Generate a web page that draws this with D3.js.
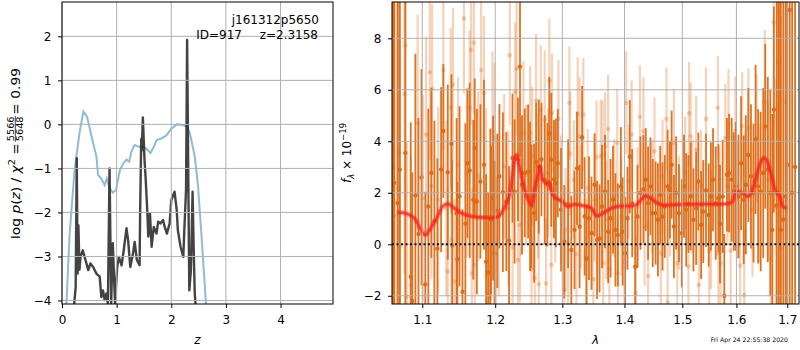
<!DOCTYPE html>
<html>
<head>
<meta charset="utf-8">
<script src="https://cdn.jsdelivr.net/npm/d3@7"></script>
<style>
  body { margin: 0; background: #fff; }
  text { font-family: "DejaVu Sans", sans-serif; }
</style>
</head>
<body>
<svg id="chart" width="800" height="350"></svg>
<script>
// ---- left panel: redshift fit ----
const zTicks = [0, 1, 2, 3, 4];
const zTickLabels = ['0', '1', '2', '3', '4'];
const logpTicks = [-4, -3, -2, -1, 0, 1, 2];
const logpTickLabels = ['\u22124', '\u22123', '\u22122', '\u22121', '0', '1', '2'];

// scaled chi2 curve (blue)
const chiZ = [0.06, 0.08, 0.14, 0.23, 0.32, 0.39, 0.46, 0.57, 0.63, 0.66, 0.72, 0.78, 0.82, 0.87, 0.93, 0.99,
  1.06, 1.12, 1.18, 1.23, 1.27, 1.33, 1.41, 1.48, 1.54, 1.62, 1.68, 1.73, 1.82, 1.91, 2.00, 2.10,
  2.19, 2.28, 2.34, 2.43, 2.49, 2.55, 2.61, 2.66];
const chiVal = [-5.0, -4.1, -2.48, -1.04, -0.2, 0.29, 0.17, -0.43, -0.73, -1.15, -1.23, -1.38, -1.23, -1.45, -1.55, -1.49,
  -1.04, -0.89, -0.8, -0.85, -0.62, -0.47, -0.51, -0.51, -0.55, -0.65, -0.51, -0.36, -0.32, -0.25, -0.1, 0.0,
  -0.01, -0.05, -0.2, -0.73, -1.41, -2.47, -3.6, -4.6];

// log p(z) (black)
const pzZ = [0.20, 0.25, 0.27, 0.285, 0.30, 0.32, 0.34, 0.38, 0.43, 0.48, 0.52, 0.57, 0.63, 0.69, 0.72, 0.75,
  0.78, 0.81, 0.84, 0.87, 0.90, 0.93, 0.97, 1.01, 1.04, 1.09, 1.13, 1.18, 1.21, 1.25, 1.30, 1.33,
  1.37, 1.42, 1.43, 1.45, 1.46, 1.48, 1.51, 1.53, 1.56, 1.58, 1.61, 1.64, 1.68, 1.73, 1.76, 1.80,
  1.85, 1.88, 1.92, 1.97, 2.00, 2.06, 2.10, 2.12, 2.17, 2.22, 2.24, 2.27, 2.29, 2.31, 2.33, 2.36,
  2.39, 2.41, 2.43, 2.46];
const pzVal = [-4.4, -3.7, -0.77, -3.39, -2.29, -3.3, -3.0, -2.86, -3.08, -3.31, -3.16, -3.24, -3.39, -3.46, -3.92, -3.77,
  -3.99, -3.84, -4.07, -1.0, -4.07, -2.7, -4.07, -3.24, -3.01, -3.2, -2.86, -2.36, -2.63, -3.24, -2.93, -2.67,
  -3.08, -3.2, -2.0, -0.33, -0.6, 0.16, -0.8, -1.2, -1.95, -2.55, -2.02, -2.78, -2.33, -2.48, -2.21, -2.25,
  -2.17, -2.33, -2.48, -2.25, -1.72, -1.53, -1.95, -2.4, -2.78, -3.01, -2.36, -1.5, 1.92, -1.0, -3.77, -3.3,
  -1.53, -2.8, -3.84, -4.4];

// ---- right panel: spectrum ----
const waveTicks = [1.1, 1.2, 1.3, 1.4, 1.5, 1.6, 1.7];
const waveTickLabels = ['1.1', '1.2', '1.3', '1.4', '1.5', '1.6', '1.7'];
const fluxTicks = [-2, 0, 2, 4, 6, 8];
const fluxTickLabels = ['\u22122', '0', '2', '4', '6', '8'];

// first grism spectrum (strong colour)
const darkWave = [
  1.061, 1.063, 1.064, 1.068, 1.071, 1.078, 1.085, 1.087, 1.091, 1.095,
  1.099, 1.104, 1.108, 1.112, 1.116, 1.120, 1.125, 1.128, 1.134, 1.139,
  1.140, 1.146, 1.147, 1.150, 1.154, 1.158, 1.161, 1.164, 1.169, 1.171,
  1.174, 1.179, 1.184, 1.187, 1.190, 1.193, 1.194, 1.197, 1.199, 1.203,
  1.206, 1.211, 1.216, 1.220, 1.225, 1.228, 1.233, 1.236, 1.239, 1.243,
  1.248, 1.251, 1.253, 1.257, 1.260, 1.264, 1.268, 1.273, 1.277, 1.280,
  1.283, 1.287, 1.290, 1.293, 1.298, 1.303, 1.309, 1.314, 1.319, 1.323,
  1.327, 1.331, 1.335, 1.338, 1.342, 1.346, 1.351, 1.355, 1.359, 1.363,
  1.368, 1.373, 1.377, 1.381, 1.385, 1.389, 1.394, 1.397, 1.401, 1.405,
  1.409, 1.413, 1.418, 1.422, 1.427, 1.432, 1.436, 1.440, 1.444, 1.448,
  1.453, 1.457, 1.461, 1.465, 1.469, 1.474, 1.478, 1.481, 1.485, 1.489,
  1.494, 1.499, 1.503, 1.507, 1.511, 1.515, 1.520, 1.525, 1.529, 1.534,
  1.538, 1.543, 1.548, 1.552, 1.556, 1.561, 1.566, 1.569, 1.574, 1.577,
  1.582, 1.586, 1.591, 1.595, 1.599, 1.604, 1.609, 1.614, 1.618, 1.623,
  1.628, 1.633, 1.637, 1.642, 1.647, 1.652, 1.656, 1.661, 1.666, 1.670,
  1.673, 1.679, 1.683, 1.687, 1.692, 1.697, 1.700, 1.705, 1.710, 1.716];
const darkFlux = [
  3.0, 1.10, 2.38, 1.6, 2.9, 3.55, -1.26, -2.2, 1.9, 0.4,
  2.6, -1.56, 1.47, 2.77, 0.9, -0.16, 2.9, 4.4, 2.8, 3.9,
  -0.05, 1.2, -0.58, 1.86, -1.84, 0.8, 3.15, 2.87, 1.73, 3.74,
  1.66, 2.44, 3.09, -0.68, -1.1, 0.99, 0.95, 1.79, -0.35, 1.3,
  2.64, 2.02, 1.66, 0.14, 3.35, 2.05, 3.3, 6.9, 2.31, 2.77,
  2.83, 1.86, 1.47, 1.21, 3.2, 3.02, 3.29, 2.51, 2.31, 4.3,
  3.28, 2.53, 2.38, 3.15, 1.34, 0.1, 1.57, -0.22, 0.56, 2.95,
  0.69, 4.15, 1.08, -0.55, 1.01, 0.43, 2.31, 0.17, 0.23, 1.47,
  2.05, 0.49, 1.01, 1.73, 0.56, 0.36, 2.25, 0.49, -0.35, 1.01,
  3.4, 1.6, -0.87, 1.08, 1.99, 2.14, 2.51, 1.6, 2.25, 1.21,
  1.21, 0.95, 1.92, 1.08, 1.47, 2.25, 2.12, 3.09, 0.69, 1.99,
  1.21, 0.43, 2.25, 1.34, 1.57, 1.86, 0.95, 1.40, 2.44, 0.75,
  1.27, 2.09, 1.14, 1.86, 2.51, 1.60, 1.79, 0.79, 1.86, -2.0,
  2.70, 2.77, 2.51, 2.05, 2.25, 1.86, 3.15, 1.73, 2.31, 3.47,
  2.64, 1.99, 4.07, 2.25, 2.05, 2.77, 4.58, 2.9, 1.99, 0.56,
  5.23, 1.51, 1.99, 0.56, 0.95, 1.86, 3.09, 9.1, 2.0, 3.0];
const darkErr = [
  30, 14, 12, 15, 11, 9, 6, 5, 5.5, 4.5,
  4.2, 3.6, 3.8, 3.3, 3.9, 3.5, 3.2, 2.6, 3.4, 2.7,
  3.3, 3.7, 3.0, 3.5, 3.2, 3.9, 2.9, 3.4, 3.1, 2.7,
  3.6, 3.0, 3.3, 3.4, 3.1, 3.5, 2.9, 3.2, 3.6, 3.0,
  2.8, 3.1, 2.7, 2.9, 2.5, 2.8, 2.4, 3.5, 2.7, 2.5,
  2.6, 2.9, 2.4, 2.7, 2.3, 2.6, 2.2, 2.5, 2.4, 2.2,
  2.6, 2.3, 2.5, 2.1, 2.4, 2.2, 2.5, 2.1, 2.3, 2.2,
  2.4, 2.0, 2.3, 2.1, 2.4, 2.2, 2.0, 2.3, 2.1, 2.4,
  2.2, 2.0, 2.3, 2.1, 2.2, 2.0, 2.3, 2.1, 2.2, 2.0,
  2.2, 2.1, 2.3, 2.0, 2.2, 2.1, 2.0, 2.2, 1.9, 2.1,
  2.0, 2.2, 1.9, 2.1, 2.0, 2.2, 1.9, 2.1, 2.0, 2.2,
  1.9, 2.1, 2.0, 2.2, 1.9, 2.1, 2.0, 2.2, 1.9, 2.1,
  2.0, 2.2, 2.0, 2.1, 2.0, 2.2, 2.1, 2.3, 2.2, 2.4,
  2.2, 2.3, 2.4, 2.3, 2.5, 2.4, 2.6, 2.5, 2.7, 2.6,
  2.8, 2.7, 2.9, 3.0, 3.1, 3.3, 3.2, 3.6, 4.0, 4.5,
  4.0, 8, 10, 12, 14, 16, 18, 20, 25, 30];

// second grism spectrum (faint colour)
const lightWave = [
  1.069, 1.070, 1.071, 1.077, 1.078, 1.080, 1.085, 1.094, 1.101, 1.105,
  1.110, 1.112, 1.113, 1.121, 1.128, 1.132, 1.134, 1.138, 1.139, 1.141,
  1.143, 1.148, 1.156, 1.160, 1.164, 1.166, 1.167, 1.170, 1.171, 1.176,
  1.180, 1.184, 1.187, 1.188, 1.193, 1.196, 1.199, 1.201, 1.205, 1.213,
  1.219, 1.221, 1.225, 1.229, 1.231, 1.233, 1.236, 1.238, 1.241, 1.245,
  1.251, 1.253, 1.254, 1.258, 1.260, 1.263, 1.264, 1.267, 1.273, 1.275,
  1.278, 1.280, 1.283, 1.284, 1.289, 1.294, 1.298, 1.303, 1.305, 1.309,
  1.311, 1.312, 1.318, 1.322, 1.324, 1.327, 1.329, 1.333, 1.338, 1.340,
  1.349, 1.351, 1.354, 1.361, 1.364, 1.365, 1.368, 1.370, 1.373, 1.375,
  1.383, 1.388, 1.389, 1.395, 1.400, 1.403, 1.407, 1.412, 1.419, 1.422,
  1.426, 1.432, 1.434, 1.440, 1.447, 1.451, 1.462, 1.465, 1.472, 1.474,
  1.478, 1.485, 1.491, 1.494, 1.505, 1.511, 1.512, 1.515, 1.518, 1.525,
  1.530, 1.534, 1.543, 1.549, 1.552, 1.565, 1.566, 1.568, 1.570, 1.579,
  1.583, 1.585, 1.589, 1.598, 1.601, 1.607, 1.611, 1.615, 1.617, 1.623,
  1.631, 1.639, 1.645, 1.655, 1.661, 1.667, 1.673, 1.677, 1.682, 1.683,
  1.686, 1.687, 1.697];
const lightFlux = [
  2.16, 3.57, -0.09, 5.84, 7.73, -2.04, -1.58, 4.71, 1.79, 4.26,
  6.68, 2.25, 6.04, 1.73, 6.77, 1.40, -1.06, 5.30, 0.17, 6.19,
  -1.45, 3.09, 8.77, 2.77, 5.30, 7.55, -1.13, 7.83, -0.8, 2.64,
  6.77, 5.88, 1.99, -1.91, -2.08, 4.39, 4.13, -0.39, 1.08, 3.03,
  1.40, 7.34, -0.12, 5.92, 6.82, -0.61, 0.75, 2.25, 4.32, 2.70,
  4.32, -0.97, 3.42, -1.32, 5.57, 2.25, -1.55, 5.23, 4.84, -1.52,
  2.77, 6.36, -0.8, 5.10, 1.79, 4.87, 1.73, -1.78, 0.56, 0.04,
  5.49, 3.52, 2.51, -0.39, 5.06, 4.19, 1.47, 5.04, -0.61, 2.18,
  -1.36, 1.73, 3.38, 3.42, 3.48, -0.74, 3.81, 0.95, 4.48, -0.94,
  1.79, 3.94, -1.13, 1.08, -0.68, 5.49, 2.44, 4.26, -1.89, 1.47,
  4.95, 4.39, 0.69, -1.23, 1.86, 3.61, -0.35, 2.64, 4.87, -2.23,
  1.73, 3.94, -0.74, 1.21, 2.77, -0.87, 5.08, 4.19, 1.86, 3.68,
  -1.58, 2.25, 4.87, -0.25, 0.56, 5.30, -0.35, 1.60, -0.74, 4.13,
  2.25, 4.71, -0.25, 4.42, 1.73, -0.83, 4.58, -1.97, 2.05, 4.52,
  1.34, 4.13, 1.99, 5.53, 2.51, -0.55, 8.61, 1.47, 7.08, 9.03,
  5.62, -0.16, 5.53];
const lightErr = [
  10, 9, 8, 7, 6, 6, 5, 4.2, 4.0, 3.8,
  3.4, 3.6, 3.3, 3.6, 3.1, 3.4, 3.3, 3.1, 3.5, 3.0,
  3.2, 3.4, 2.9, 3.3, 3.0, 2.9, 3.3, 2.8, 3.1, 3.3,
  2.8, 3.0, 3.3, 2.8, 2.9, 3.1, 2.9, 3.0, 3.1, 2.8,
  3.0, 2.7, 2.9, 2.7, 2.6, 2.8, 3.0, 2.7, 2.8, 2.7,
  2.6, 2.8, 2.7, 2.5, 2.6, 2.8, 2.6, 2.5, 2.7, 2.5,
  2.5, 2.4, 2.6, 2.3, 2.5, 2.3, 2.5, 2.3, 2.4, 2.5,
  2.2, 2.4, 2.3, 2.5, 2.2, 2.3, 2.4, 2.2, 2.4, 2.3,
  2.3, 2.4, 2.2, 2.2, 2.1, 2.4, 2.1, 2.3, 2.1, 2.3,
  2.3, 2.1, 2.3, 2.3, 2.2, 2.0, 2.2, 2.1, 2.2, 2.3,
  2.0, 2.1, 2.3, 2.2, 2.2, 2.1, 2.2, 2.2, 2.0, 2.2,
  2.2, 2.1, 2.3, 2.2, 2.2, 2.3, 2.0, 2.1, 2.2, 2.1,
  2.2, 2.2, 2.0, 2.2, 2.3, 2.0, 2.3, 2.2, 2.3, 2.1,
  2.3, 2.1, 2.3, 2.1, 2.3, 2.4, 2.1, 2.5, 2.4, 2.3,
  2.6, 2.5, 2.7, 2.8, 3.0, 3.4, 4.0, 5.0, 6.0, 7.0,
  8.0, 9.0, 11];

// best-fit model (red)
const modelWave = [1.068, 1.078, 1.090, 1.097, 1.104, 1.111, 1.119, 1.127, 1.134, 1.143, 1.153, 1.167, 1.185,
  1.204, 1.213, 1.220, 1.224, 1.228, 1.231, 1.236, 1.241, 1.248, 1.253, 1.258, 1.263, 1.266, 1.270,
  1.275, 1.280, 1.285, 1.293, 1.300, 1.308, 1.319, 1.335, 1.346, 1.354, 1.365, 1.378, 1.389, 1.400,
  1.418, 1.428, 1.435, 1.444, 1.456, 1.465, 1.500, 1.543, 1.580, 1.592, 1.601, 1.611, 1.623, 1.633,
  1.642, 1.652, 1.658, 1.667, 1.677, 1.685, 1.691, 1.700];
const modelFlux = [1.23, 1.21, 1.01, 0.62, 0.36, 0.62, 1.01, 1.47, 1.57, 1.40, 1.21, 1.08, 1.04,
  1.08, 1.40, 1.86, 2.51, 3.29, 3.48, 2.90, 2.31, 1.73, 1.53, 2.18, 2.70, 3.03, 2.51,
  2.38, 2.40, 1.92, 1.75, 1.66, 1.47, 1.55, 1.49, 1.40, 1.10, 1.21, 1.40, 1.47, 1.49,
  1.51, 1.73, 1.88, 1.79, 1.60, 1.53, 1.55, 1.56, 1.57, 1.66, 2.05, 1.99, 1.86, 2.25,
  2.90, 3.35, 3.29, 2.77, 2.05, 1.86, 1.47, 1.40];

const fitTitle = 'j161312p5650';
const fitId = 'ID=917';
const fitZ = 'z=2.3158';
const chiNum = '5566';
const chiDen = '5648';
const chiRatio = '0.99';
const stamp = 'Fri Apr 24 22:55:38 2020';

// ---------------------------------------------------------------
const svg = d3.select('#chart');
const gridColor = '#b0b0b0';
const fontSize = 12;

function drawAxes(g, x, y, box, xt, xl, yt, yl) {
    g.append('g')
        .attr('transform', 'translate(0,' + box.bottom + ')')
        .call(d3.axisBottom(x).tickValues(xt).tickFormat((d, i) => xl[i]).tickSize(4).tickPadding(7))
        .call(a => a.select('.domain').remove())
        .call(a => a.selectAll('text').attr('font-size', fontSize).attr('font-family', 'DejaVu Sans').attr('fill', '#000'));
    g.append('g')
        .attr('transform', 'translate(' + box.left + ',0)')
        .call(d3.axisLeft(y).tickValues(yt).tickFormat((d, i) => yl[i]).tickSize(4).tickPadding(6.5))
        .call(a => a.select('.domain').remove())
        .call(a => a.selectAll('text').attr('font-size', fontSize).attr('font-family', 'DejaVu Sans').attr('fill', '#000'));
}

function drawGrid(g, x, y, box, xt, yt) {
    g.selectAll('.gx').data(xt).enter().append('line')
        .attr('x1', d => x(d)).attr('x2', d => x(d))
        .attr('y1', box.top).attr('y2', box.bottom)
        .attr('stroke', gridColor).attr('stroke-width', 1);
    g.selectAll('.gy').data(yt).enter().append('line')
        .attr('x1', box.left).attr('x2', box.right)
        .attr('y1', d => y(d)).attr('y2', d => y(d))
        .attr('stroke', gridColor).attr('stroke-width', 1);
}

function frame(g, box) {
    g.append('rect')
        .attr('x', box.left).attr('y', box.top)
        .attr('width', box.right - box.left).attr('height', box.bottom - box.top)
        .attr('fill', 'none').attr('stroke', '#000').attr('stroke-width', 1);
}

function clip(id, box) {
    svg.append('clipPath').attr('id', id).append('rect')
        .attr('x', box.left).attr('y', box.top)
        .attr('width', box.right - box.left).attr('height', box.bottom - box.top);
}

// ---- left panel ----
const L = {left: 62, right: 333, top: 2, bottom: 304};
const xz = d3.scaleLinear().domain([0, 4.96]).range([L.left, L.right]);
const yp = d3.scaleLinear().domain([-4.08, 2.78]).range([L.bottom, L.top]);
clip('clipL', L);

const left = svg.append('g');
const leftData = left.append('g').attr('clip-path', 'url(#clipL)');

const zLine = d3.line().x(d => xz(d[0])).y(d => yp(d[1]));
leftData.append('path')
    .datum(d3.zip(chiZ, chiVal))
    .attr('d', zLine)
    .attr('fill', 'none').attr('stroke', '#1f77b4').attr('stroke-opacity', 0.5).attr('stroke-width', 2);
leftData.append('path')
    .datum(d3.zip(pzZ, pzVal))
    .attr('d', zLine)
    .attr('fill', 'none').attr('stroke', '#222').attr('stroke-opacity', 0.85).attr('stroke-width', 2.4)
    .attr('stroke-linejoin', 'round');

drawGrid(left, xz, yp, L, zTicks, logpTicks);
frame(left, L);
drawAxes(left, xz, yp, L, zTicks, zTickLabels, logpTicks, logpTickLabels);

left.append('text').attr('x', 319).attr('y', 24).attr('text-anchor', 'end').attr('font-size', fontSize).text(fitTitle);
left.append('text').attr('x', 318).attr('y', 39).attr('text-anchor', 'end').attr('font-size', fontSize).text(fitZ);
left.append('text').attr('x', 242).attr('y', 39).attr('text-anchor', 'end').attr('font-size', fontSize).text(fitId);

left.append('text').attr('x', (L.left + L.right) / 2).attr('y', 344)
    .attr('text-anchor', 'middle').attr('font-size', fontSize).attr('font-style', 'italic').text('z');

// y label with stacked fraction, stretched to the width it has in the original
const labSize = 12;
const labWidth = 171;
const ylab = left.append('g').attr('transform', 'translate(19.5,153.5) rotate(-90)');
const ylabIn = ylab.append('g');
const t1 = ylabIn.append('text').attr('font-size', labSize);
t1.append('tspan').text('log ');
t1.append('tspan').attr('font-style', 'italic').text('p');
t1.append('tspan').text('(');
t1.append('tspan').attr('font-style', 'italic').text('z');
t1.append('tspan').text(') / ');
t1.append('tspan').attr('font-style', 'italic').text('\u03c7');
t1.append('tspan').attr('font-size', 8.5).attr('dy', -5).text('2');
t1.append('tspan').attr('dy', 5).text(' = ');
const w1 = t1.node().getComputedTextLength() + 1;
const num = ylabIn.append('text').attr('font-size', 8.5).attr('text-anchor', 'middle').attr('y', -6).text(chiNum);
const den = ylabIn.append('text').attr('font-size', 8.5).attr('text-anchor', 'middle').attr('y', 3.5).text(chiDen);
const fw = Math.max(num.node().getComputedTextLength(), den.node().getComputedTextLength()) + 1;
num.attr('x', w1 + fw / 2);
den.attr('x', w1 + fw / 2);
ylabIn.append('line').attr('x1', w1).attr('x2', w1 + fw).attr('y1', -4.2).attr('y2', -4.2)
    .attr('stroke', '#000').attr('stroke-width', 0.7);
const t2 = ylabIn.append('text').attr('font-size', labSize).attr('x', w1 + fw + 1).text(' = ' + chiRatio);
const wTot = w1 + fw + 1 + t2.node().getComputedTextLength();
const sx = Math.min(1.15, Math.max(0.9, labWidth / wTot));
ylabIn.attr('transform', 'scale(' + sx + ',1) translate(' + (-wTot / 2) + ',0)');

// ---- right panel ----
const R = {left: 392, right: 799, top: 2, bottom: 304};
const xw = d3.scaleLog().domain([1.061, 1.724]).range([R.left, R.right]);
const yf = d3.scaleLinear().domain([-2.32, 9.41]).range([R.bottom, R.top]);
clip('clipR', R);

const right = svg.append('g');
const rightData = right.append('g').attr('clip-path', 'url(#clipR)');
const orange = '#dd6a14';

function spectrum(g, wave, flux, err, opacity, barW, r) {
    const pts = d3.zip(wave, flux, err);
    const s = g.append('g');
    s.selectAll('line').data(pts).enter().append('line')
        .attr('x1', d => xw(d[0])).attr('x2', d => xw(d[0]))
        .attr('y1', d => yf(d[1] - d[2])).attr('y2', d => yf(d[1] + d[2]))
        .attr('stroke', orange).attr('stroke-opacity', opacity).attr('stroke-width', barW);
    s.selectAll('circle').data(pts).enter().append('circle')
        .attr('cx', d => xw(d[0])).attr('cy', d => yf(d[1]))
        .attr('r', r).attr('fill', orange).attr('fill-opacity', opacity);
}
spectrum(rightData, lightWave, lightFlux, lightErr, 0.3, 2.2, 2.3);
spectrum(rightData, darkWave, darkFlux, darkErr, 0.95, 1.8, 2.2);

const modelLine = d3.line().x(d => xw(d[0])).y(d => yf(d[1])).curve(d3.curveCatmullRom);
const modelPts = d3.zip(modelWave, modelFlux);
rightData.append('path').datum(modelPts).attr('d', modelLine)
    .attr('fill', 'none').attr('stroke', '#ff0000').attr('stroke-opacity', 0.3).attr('stroke-width', 5);
rightData.append('path').datum(modelPts).attr('d', modelLine)
    .attr('fill', 'none').attr('stroke', '#ff2020').attr('stroke-opacity', 0.75).attr('stroke-width', 2.4);

drawGrid(right, xw, yf, R, waveTicks, fluxTicks);

right.append('line')
    .attr('x1', R.left).attr('x2', R.right)
    .attr('y1', yf(0)).attr('y2', yf(0))
    .attr('stroke', '#111').attr('stroke-width', 2).attr('stroke-dasharray', '2,2.5');

frame(right, R);
drawAxes(right, xw, yf, R, waveTicks, waveTickLabels, fluxTicks, fluxTickLabels);

right.append('text').attr('x', (R.left + R.right) / 2).attr('y', 344)
    .attr('text-anchor', 'middle').attr('font-size', fontSize).attr('font-style', 'italic').text('\u03bb');

const yr = right.append('g').attr('transform', 'translate(351,153) rotate(-90)');
const tr = yr.append('text').attr('text-anchor', 'middle').attr('font-size', fontSize);
tr.append('tspan').attr('font-style', 'italic').text('f');
tr.append('tspan').attr('font-style', 'italic').attr('font-size', 8.5).attr('dy', 3).text('\u03bb');
tr.append('tspan').attr('dy', -3).text(' \u00d7 10');
tr.append('tspan').attr('font-size', 8.5).attr('dy', -5).text('\u221219');

svg.append('text').attr('x', 788).attr('y', 342).attr('text-anchor', 'end')
    .attr('font-size', 6.2).text(stamp);
</script>
</body>
</html>
